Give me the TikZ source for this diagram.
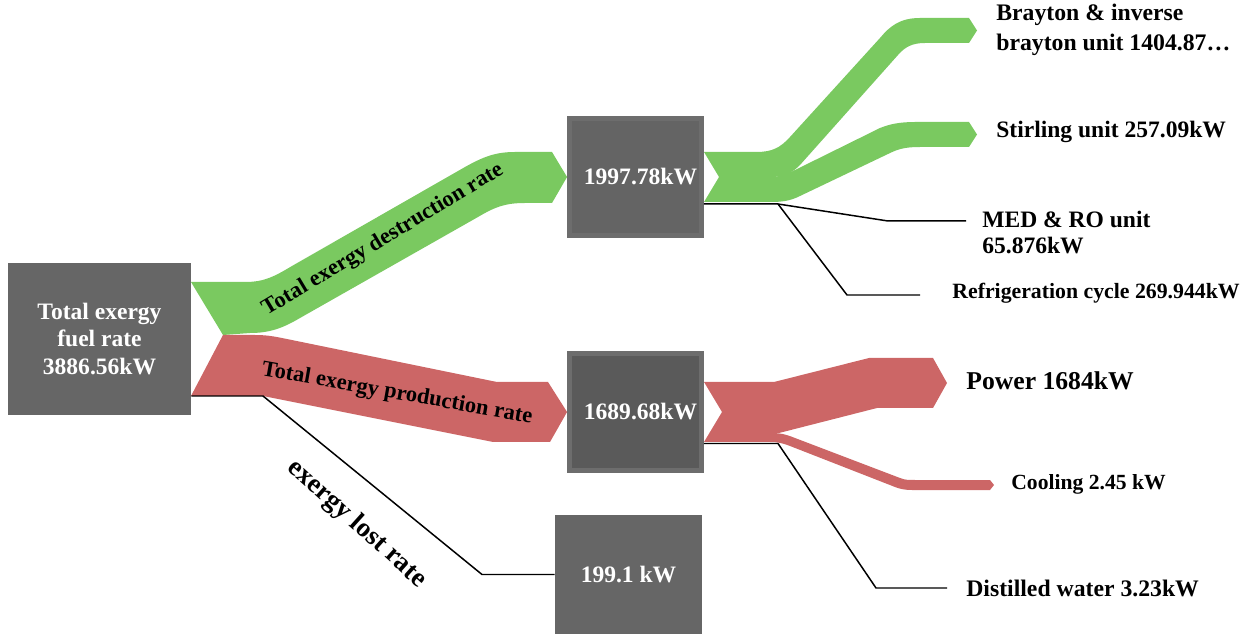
\documentclass[tikz,border=0pt]{standalone}
\usepackage{fontspec}
\setmainfont{Liberation Serif}
\usetikzlibrary{positioning}

\definecolor{bandgreen}{RGB}{122,201,96}
\definecolor{bandred}{RGB}{204,102,102}
\definecolor{boxgray}{RGB}{102,102,102}
\definecolor{boxrim}{RGB}{109,109,109}
\definecolor{boxdark}{RGB}{90,90,90}

\newcommand{\fs}[1]{\bfseries\fontsize{#1}{1.2\dimexpr#1pt\relax}\selectfont}

\begin{document}
\begin{tikzpicture}[x=0.02cm,y=-0.02cm,
sbox/.style={fill=boxgray,text=white,align=center,inner sep=0pt,font=\fs{13.4}},
lbl/.style={anchor=west,align=left,inner sep=0pt},
flowlbl/.style={inner sep=0pt},
leader/.style={draw=black,line width=0.85pt}]
\useasboundingbox (0,0) rectangle (1250,634);

% boxes
\node[sbox,minimum width=3.66cm,minimum height=3.04cm,
  font=\bfseries\fontsize{13.4}{15.6}\selectfont] (fuel) at (99.5,339) {Total exergy\\fuel rate\\3886.56kW};
\node[sbox,fill=boxgray!98!black,draw=boxrim,line width=2.8pt,
  minimum width=2.64cm,minimum height=2.34cm] (dest) at (635.5,177) {\hspace{0.2cm}1997.78kW};
\node[sbox,fill=boxdark,draw=boxrim,line width=2.8pt,
  minimum width=2.64cm,minimum height=2.34cm] (prod) at (635.5,412) {\hspace{0.2cm}1689.68kW};
\node[sbox,minimum width=2.94cm,minimum height=2.38cm] (lost) at (628.5,574.5) {199.1 kW};

% flows
\fill[bandgreen] (191,282) -- (245,282) .. controls (265,282) and (275,276) .. (292,266)
  -- (465,167) .. controls (483,157) and (495,152) .. (515,152) -- (552,152)
  -- (dest.west) -- (552,203) -- (525,203) .. controls (505,203) and (495,207) .. (478,217)
  -- (300,318) .. controls (283,328) and (270,333) .. (250,333) -- (223,335) -- cycle;
\fill[bandred] (223,335) -- (255,335) .. controls (265,335) and (272,336) .. (282,338)
  -- (497,382) -- (548,382) -- (prod.west) -- (550,442) -- (493,442) -- (263,396)
  -- (191,396) -- cycle;

\fill[bandgreen] (704,152) -- (756,152) .. controls (772,152) and (780,148) .. (790,137)
  -- (880,38) .. controls (890,26) and (900,18) .. (920,18) -- (969,18) -- (977,30.5)
  -- (969,43) -- (925,43) .. controls (912,43) and (905,47) .. (898,55)
  -- (800,165) .. controls (790,175) and (782,177) .. (770,177) -- (719,177) -- cycle;
\fill[bandgreen] (719,177) -- (770,177) .. controls (778,177) and (785,175) .. (795,170)
  -- (880,128) .. controls (890,124) and (900,122) .. (915,122) -- (969,122) -- (977,134.5)
  -- (969,147) -- (920,147) .. controls (905,147) and (898,149) .. (888,154)
  -- (800,196) .. controls (790,201) and (782,202) .. (770,202) -- (704,202) -- cycle;

\fill[bandred] (704,382) -- (774,382) -- (869,358) -- (933,358) -- (947,383) -- (933,408)
  -- (877,408) -- (779,433) -- (709.4,433) -- (722,412) -- cycle;
\fill[bandred] (709.4,433) -- (770,433) .. controls (780,433) and (785,434) .. (795,438)
  -- (900,478) .. controls (905,480) and (908,480) .. (915,480) -- (990,480) -- (994,485)
  -- (990,490) -- (912,490) .. controls (905,490) and (900,489) .. (895,487)
  -- (790,446) .. controls (782,443) and (778,442) .. (770,442) -- (704,442) -- cycle;

\node[flowlbl,rotate=31,font=\fs{12.8}] (destlbl) at (383,240) {Total exergy destruction rate};
\node[flowlbl,rotate=-10,font=\fs{12.8}] (prodlbl) at (397,394) {Total exergy production rate};
\node[flowlbl,rotate=-42,font=\fs{15.4}] (lostlbl) at (357,524) {exergy lost rate};

% labels
\node[lbl,font=\bfseries\fontsize{13.5}{17}\selectfont] (brayton) at (996,30) {Brayton \& inverse\\brayton unit 1404.87…};
\node[lbl,font=\fs{13.4}] (stirling) at (996,132) {Stirling unit 257.09kW};
\node[lbl,font=\bfseries\fontsize{13.4}{14.8}\selectfont] (med) at (982,233) {MED \& RO unit\\65.876kW};
\node[lbl,font=\fs{12.4}] (refrig) at (952,293) {Refrigeration cycle 269.944kW};
\node[lbl,font=\fs{14.6}] (power) at (966,381) {Power 1684kW};
\node[lbl,font=\fs{12.3}] (cooling) at (1011,484) {Cooling 2.45 kW};
\node[lbl,font=\fs{13.5}] (water) at (966,588) {Distilled water 3.23kW};

% leaders
\coordinate (medend) at (966,221);
\coordinate (refend) at (920,295);
\coordinate (waterend) at (947,588);
\draw[leader] (fuel.east |- 0,396) -- (263,396) -- (482,574.5) -- (lost.west);
\draw[leader] (dest.east |- 0,204) -- (778,204) -- (888,221) -- (medend);
\draw[leader] (778,204) -- (847,295) -- (refend);
\draw[leader] (prod.east |- 0,443.5) -- (778,443.5) -- (876,588) -- (waterend);
\end{tikzpicture}
\end{document}
